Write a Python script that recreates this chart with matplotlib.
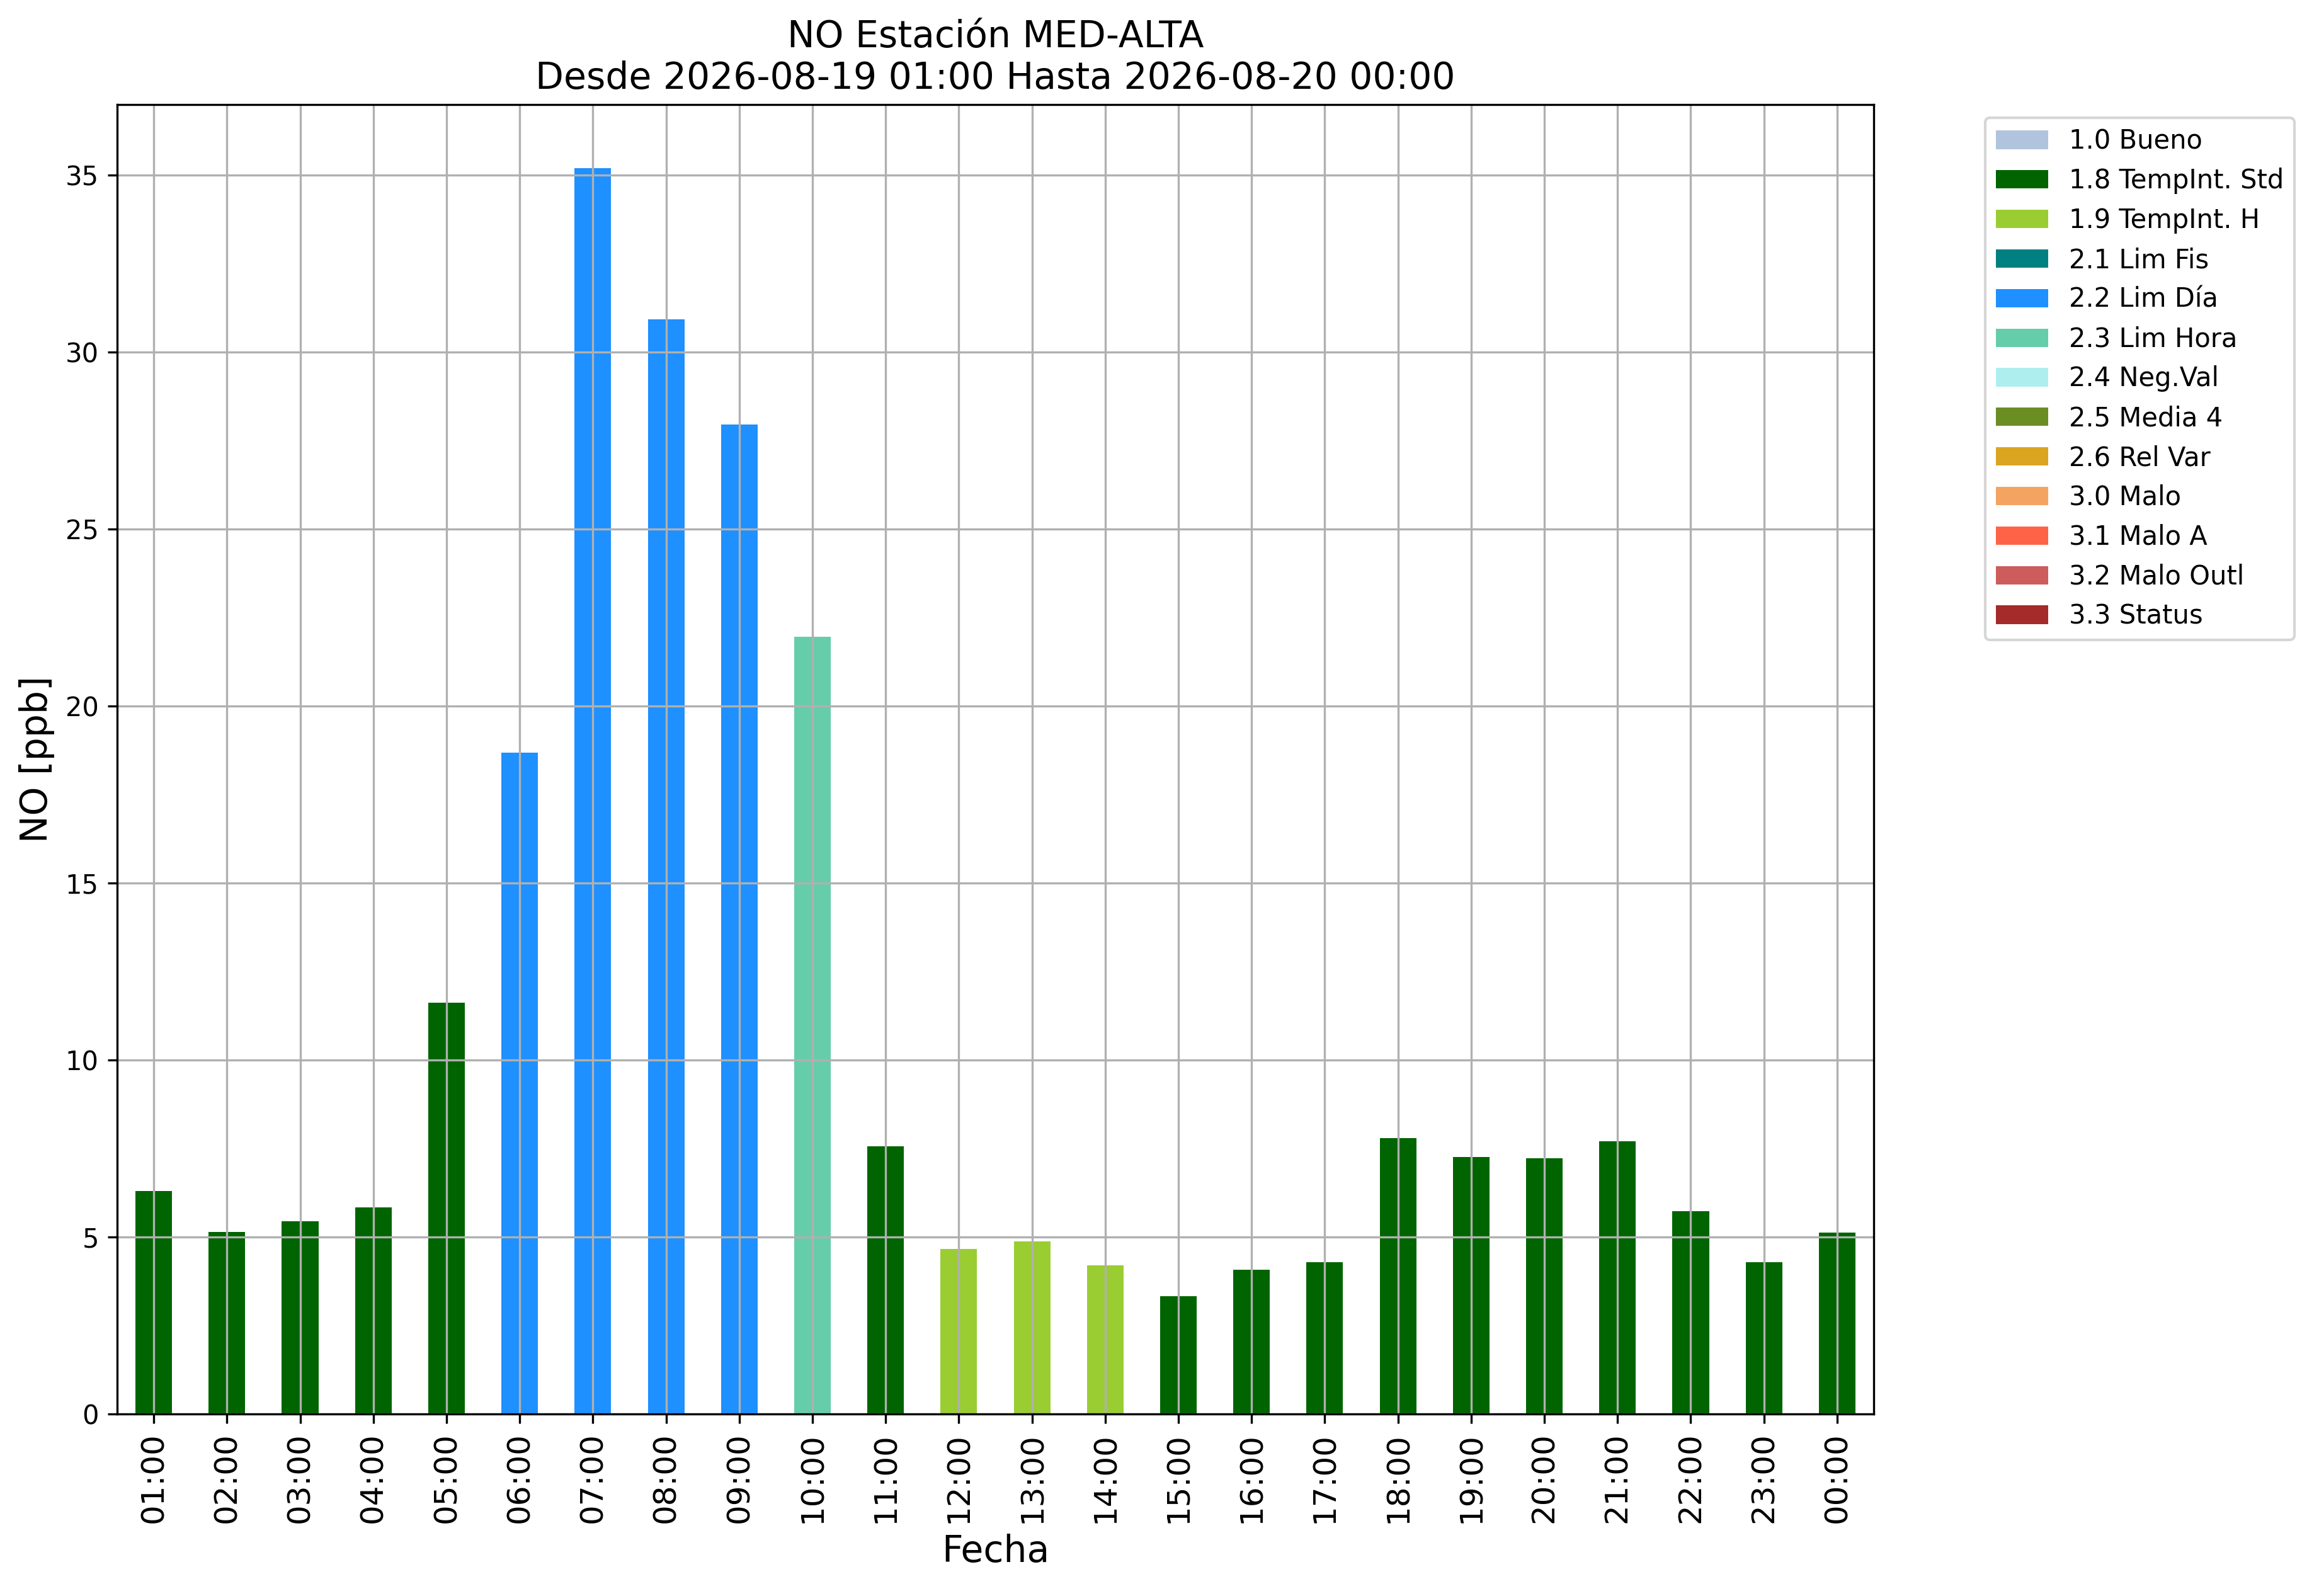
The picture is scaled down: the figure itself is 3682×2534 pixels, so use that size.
import matplotlib
matplotlib.use("Agg")
import matplotlib.pyplot as plt
from matplotlib.patches import Patch

hours = ["01:00", "02:00", "03:00", "04:00", "05:00", "06:00", "07:00", "08:00",
         "09:00", "10:00", "11:00", "12:00", "13:00", "14:00", "15:00", "16:00",
         "17:00", "18:00", "19:00", "20:00", "21:00", "22:00", "23:00", "00:00"]
values = [6.30, 5.14, 5.45, 5.84, 11.63, 18.68, 35.20, 30.94,
          27.96, 21.96, 7.57, 4.66, 4.87, 4.20, 3.32, 4.07,
          4.29, 7.80, 7.27, 7.22, 7.70, 5.73, 4.29, 5.13]
flags = ["1.8", "1.8", "1.8", "1.8", "1.8", "2.2", "2.2", "2.2",
         "2.2", "2.3", "1.8", "1.9", "1.9", "1.9", "1.8", "1.8",
         "1.8", "1.8", "1.8", "1.8", "1.8", "1.8", "1.8", "1.8"]

legend_codes = ["1.0", "1.8", "1.9", "2.1", "2.2", "2.3", "2.4", "2.5", "2.6",
                "3.0", "3.1", "3.2", "3.3"]
legend_names = ["Bueno", "TempInt. Std", "TempInt. H", "Lim Fis", "Lim Día",
                "Lim Hora", "Neg.Val", "Media 4", "Rel Var", "Malo", "Malo A",
                "Malo Outl", "Status"]
legend_colors = ["lightsteelblue", "darkgreen", "yellowgreen", "teal", "dodgerblue",
                 "mediumaquamarine", "paleturquoise", "olivedrab", "goldenrod",
                 "sandybrown", "tomato", "indianred", "brown"]

color_map = dict(zip(legend_codes, legend_colors))
bar_colors = [color_map[f] for f in flags]

fig = plt.figure(figsize=(3682 / 300, 2534 / 300), dpi=300)
ax = fig.add_axes([186 / 3682, 1 - 2245 / 2534, (2975 - 186) / 3682, (2245 - 166) / 2534])

x = list(range(len(hours)))
ax.bar(x, values, width=0.5, color=bar_colors)
ax.set_xlim(-0.5, len(hours) - 0.5)
ax.set_ylim(0, 37)
ax.set_xticks(x)
ax.set_xticklabels(hours, rotation=90, fontsize=12)
ax.tick_params(axis="y", labelsize=10)
ax.grid(True, color="#b0b0b0", linewidth=0.8)
ax.set_xlabel("Fecha", fontsize=14)
ax.set_ylabel("NO [ppb]", fontsize=14)
ax.set_title("NO Estación MED-ALTA\nDesde 2026-08-19 01:00 Hasta 2026-08-20 00:00", fontsize=14)

handles = [Patch(facecolor=c, label=f"{code} {name}")
           for code, name, c in zip(legend_codes, legend_names, legend_colors)]
ax.legend(handles=handles, bbox_to_anchor=(1.056, 1), loc="upper left", fontsize=10)

fig.savefig("out.png", dpi=300)
